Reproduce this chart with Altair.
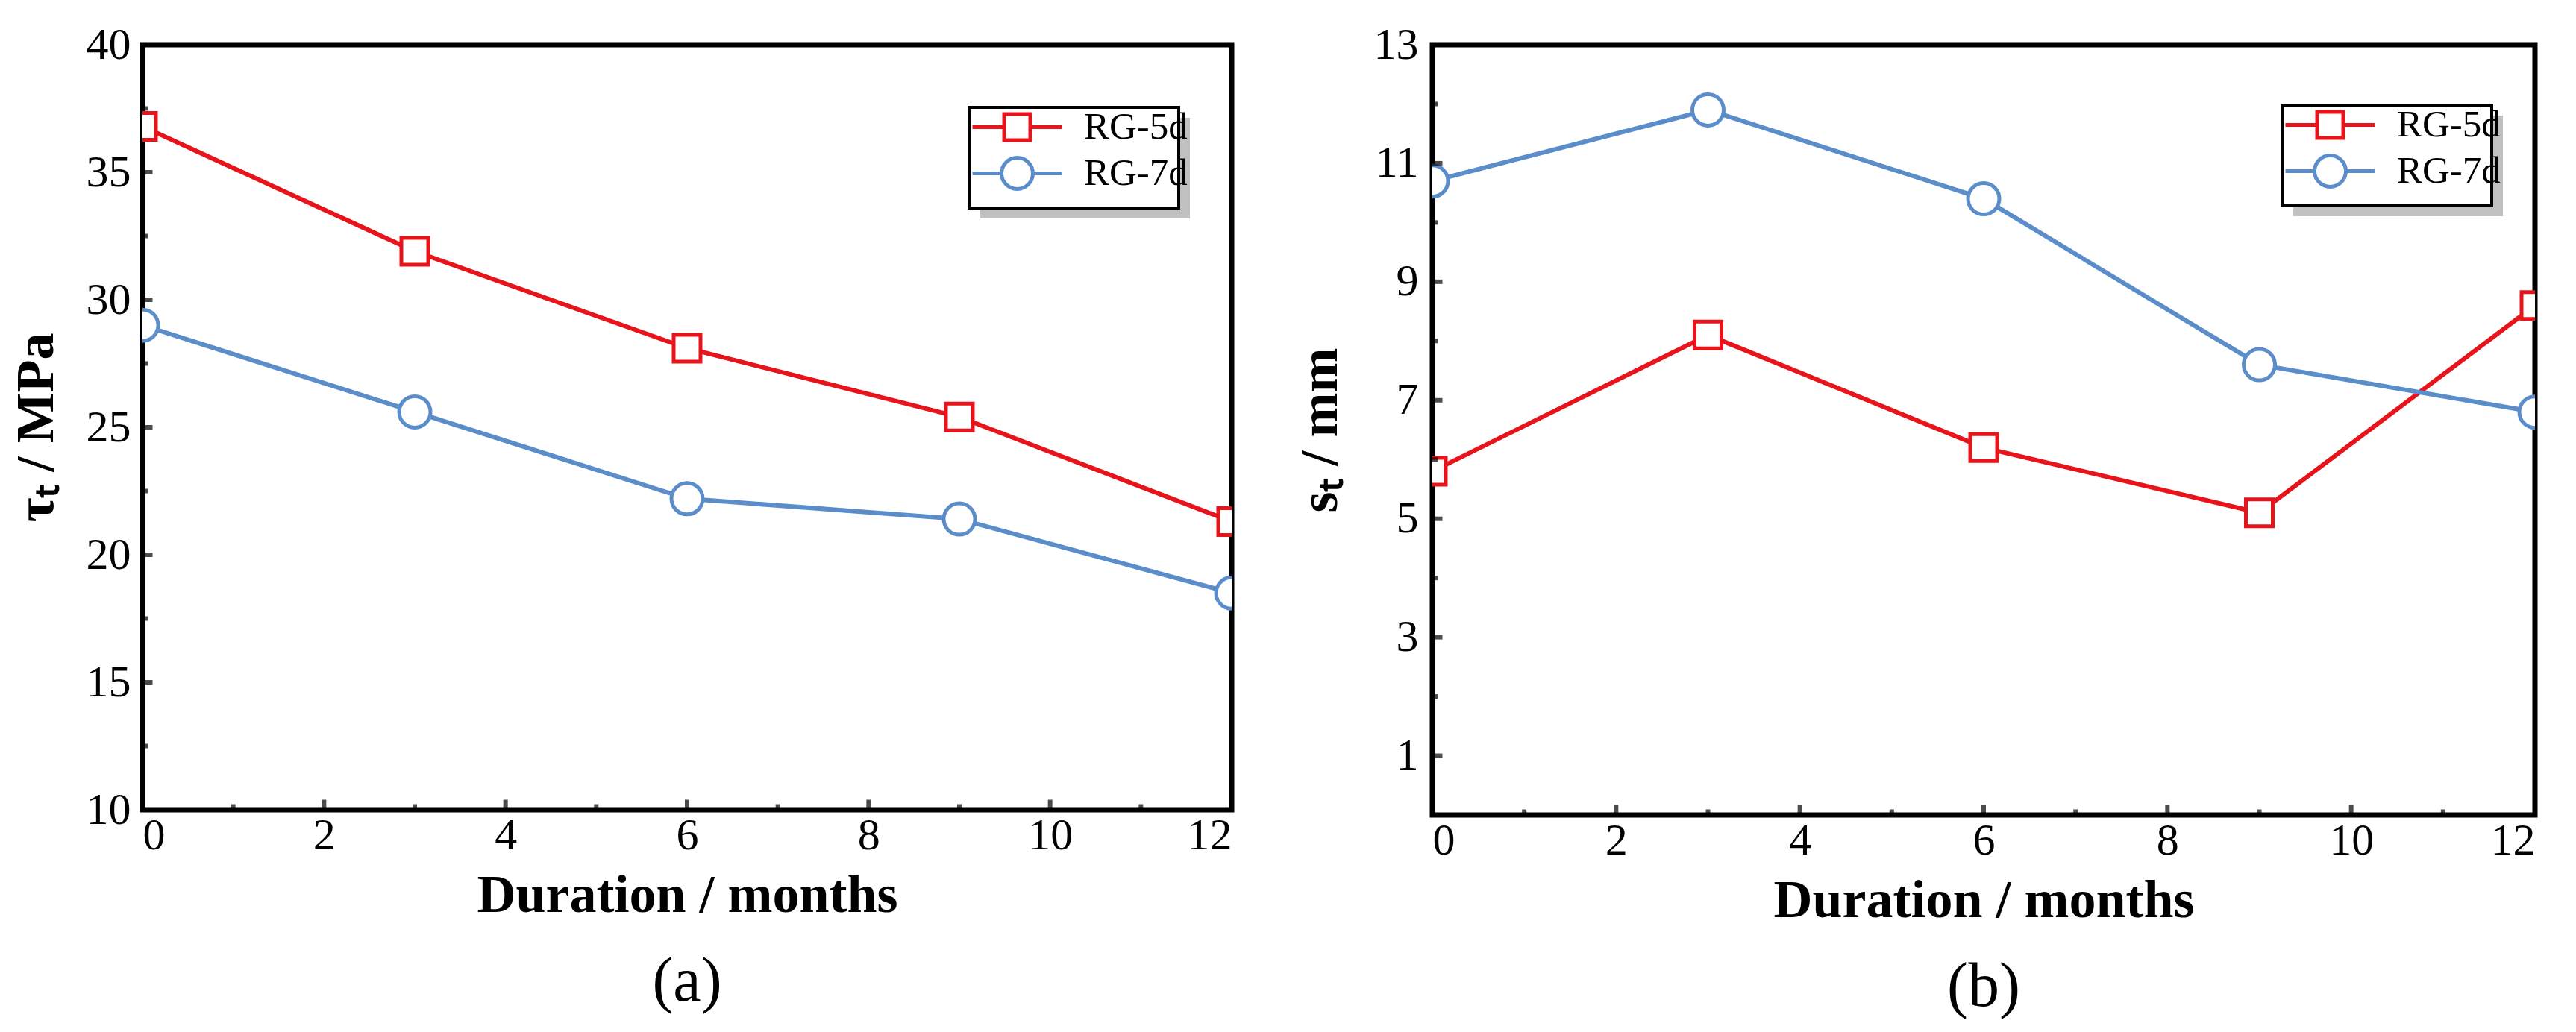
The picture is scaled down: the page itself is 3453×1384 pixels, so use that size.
import pandas as pd
import altair as alt

# tick values
x_labels = [0, 2, 4, 6, 8, 10, 12]
x_minor = [1, 3, 5, 7, 9, 11]
tau_labels = [10, 15, 20, 25, 30, 35, 40]
tau_minor = [12.5, 17.5, 22.5, 27.5, 32.5, 37.5]
slip_labels = [1, 3, 5, 7, 9, 11, 13]
slip_minor = [2, 4, 6, 8, 10, 12]

# data
months = [0, 3, 6, 9, 12]
series = ['RG-5d', 'RG-7d']
tau_5d = [36.8, 31.9, 28.1, 25.4, 21.3]
tau_7d = [29.0, 25.6, 22.2, 21.4, 18.5]
slip_5d = [5.8, 8.1, 6.2, 5.1, 8.6]
slip_7d = [10.7, 11.9, 10.4, 7.6, 6.8]

colors = ['#E8141C', '#5B8DCA']
shapes = ['square', 'circle']
sizes = [1296, 1764]
SERIF = 'Liberation Serif'

# legend symbols: marker with a line stub each side (units of sqrt(size)/2)
sq_path = 'M-2.4,0H-0.7M0.7,0H2.4M-0.7,-0.7H0.7V0.7H-0.7Z'
circ_path = ('M-2.4,0H-0.84M0.84,0H2.4M-0.84,0'
             'A0.84,0.84,0,1,0,0.84,0A0.84,0.84,0,1,0,-0.84,0Z')

BOX_W, BOX_H = 281, 135


def panel(v5, v7, y_title, y_domain, y_labels, y_minor, w, h,
          box_x, box_y, label_pad, title_pad, caption):
    df = pd.DataFrame({
        'month': months * 2,
        'value': v5 + v7,
        'series': [series[0]] * len(months) + [series[1]] * len(months),
    })
    x_enc = alt.X('month:Q', scale=alt.Scale(domain=[0, 12], nice=False, zero=False),
                  title='Duration / months',
                  axis=alt.Axis(values=x_labels, labelPadding=5, titlePadding=15))
    y_enc = alt.Y('value:Q', scale=alt.Scale(domain=y_domain, nice=False, zero=False),
                  title=y_title,
                  axis=alt.Axis(values=y_labels, labelPadding=label_pad,
                                titlePadding=title_pad))

    base = alt.Chart(df)
    layers = []
    for s, c in zip(series, colors):
        layers.append(base.transform_filter(alt.datum.series == s).mark_line(
            color=c, strokeWidth=6, clip=True).encode(x=x_enc, y=y_enc))
    for s, c, sh, sz in zip(series, colors, shapes, sizes):
        layers.append(base.transform_filter(alt.datum.series == s).mark_point(
            shape=sh, size=sz, stroke=c, fill='white', strokeWidth=5,
            opacity=1, clip=True).encode(x=x_enc, y=y_enc))

    # legend frame with drop shadow
    shadow = base.mark_rect(color='#C0C0C0').encode(
        x=alt.value(box_x + 15), x2=alt.value(box_x + 15 + BOX_W),
        y=alt.value(box_y + 14), y2=alt.value(box_y + 14 + BOX_H),
    )
    frame = base.mark_rect(fill='white', stroke='black', strokeWidth=4).encode(
        x=alt.value(box_x), x2=alt.value(box_x + BOX_W),
        y=alt.value(box_y), y2=alt.value(box_y + BOX_H),
    )

    leg = dict(title=None, orient='none', legendX=box_x + 4, legendY=box_y - 1,
               padding=0, labelFont=SERIF, labelFontSize=51, labelColor='black',
               symbolOffset=33, labelOffset=62, rowPadding=3, symbolSize=2500,
               symbolStrokeWidth=5, symbolFillColor='white', symbolOpacity=1)
    # carries the legend only; its points have zero size
    legend_layer = base.mark_point(
        filled=False, strokeWidth=5, opacity=1, size=0).encode(
        x=x_enc, y=y_enc,
        color=alt.Color('series:N', scale=alt.Scale(domain=series, range=colors),
                        legend=alt.Legend(**leg)),
        shape=alt.Shape('series:N',
                        scale=alt.Scale(domain=series, range=[sq_path, circ_path]),
                        legend=alt.Legend(**leg)),
    )

    def yticks(vals, size):
        return alt.Chart(pd.DataFrame({'value': vals})).mark_tick(
            orient='horizontal', color='black', thickness=6, size=size,
            clip=True).encode(y=y_enc, x=alt.value(0))

    def xticks(vals, size):
        return alt.Chart(pd.DataFrame({'month': vals})).mark_tick(
            orient='vertical', color='black', thickness=6, size=size,
            clip=True).encode(x=x_enc, y=alt.value(h))

    return alt.layer(
        *layers, shadow, frame, legend_layer,
        yticks(y_labels, 27), yticks(y_minor, 15),
        xticks(x_labels, 27), xticks(x_minor, 15),
    ).properties(
        width=w, height=h,
        title=alt.TitleParams(caption, orient='bottom', anchor='middle',
                              font=SERIF, fontSize=84, fontWeight='normal',
                              color='black', offset=40),
    )


left = panel(tau_5d, tau_7d, 'τₜ / MPa', [10, 40], tau_labels, tau_minor,
             1460, 1026, 1108, 84, 16, 30, '(a)')
right = panel(slip_5d, slip_7d, 'sₜ / mm', [0, 13], slip_labels, slip_minor,
              1478, 1033, 1139, 81, 19, 35, '(b)')

chart = alt.hconcat(left, right, spacing=64).resolve_scale(
    color='independent', shape='independent'
).resolve_legend(
    color='independent', shape='independent'
).configure_view(
    stroke='black', strokeWidth=7
).configure_axis(
    labelFont=SERIF, labelFontSize=60, labelColor='black',
    titleFont=SERIF, titleFontSize=72, titleFontWeight='bold', titleColor='black',
    domain=False, ticks=False, tickSize=0, grid=False,
).properties(
    padding={'left': 0, 'top': 18, 'right': 10, 'bottom': 10},
    background='white',
)

chart.save('out.html', embed_options={'renderer': 'svg', 'actions': False})
